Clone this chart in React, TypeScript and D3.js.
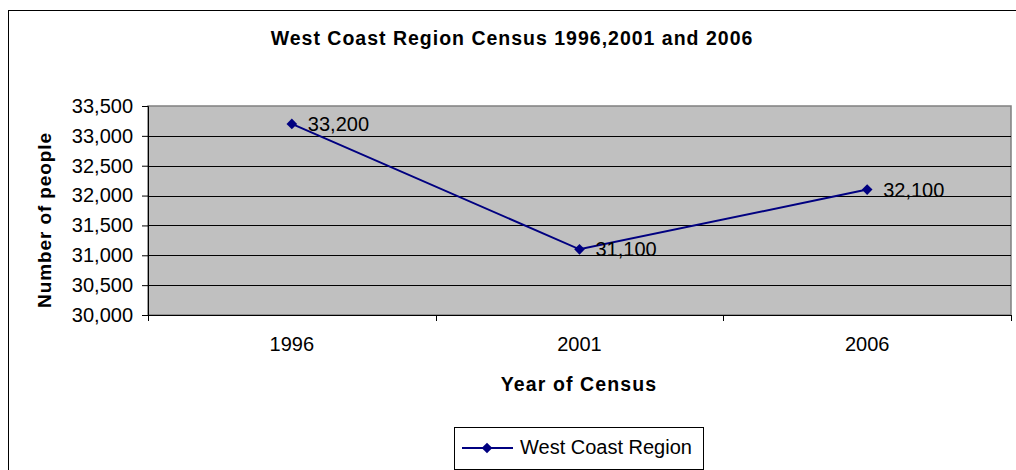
import { useEffect, useRef } from "react";
import * as d3 from "d3";

const years = ["1996", "2001", "2006"];
const population = [33200, 31100, 32100];
const yTicks = [30000, 30500, 31000, 31500, 32000, 32500, 33000, 33500];
const seriesName = "West Coast Region";

const App = () => {
  const ref = useRef<SVGSVGElement>(null);

  useEffect(() => {
    const svg = d3.select(ref.current);
    svg.selectAll("*").remove();

    const font = "'Liberation Sans', Arial, sans-serif";
    const plot = { left: 148, top: 106, right: 1011, bottom: 315 };

    // outer chart border (right and bottom cut off by the frame)
    svg
      .append("rect")
      .attr("x", 8.5)
      .attr("y", 10.5)
      .attr("width", 1020)
      .attr("height", 470)
      .attr("fill", "#fff")
      .attr("stroke", "#000");

    svg
      .append("text")
      .attr("x", 512)
      .attr("y", 45)
      .attr("text-anchor", "middle")
      .attr("font-family", font)
      .attr("font-weight", "bold")
      .attr("font-size", 19.5)
      .attr("letter-spacing", 1)
      .text("West Coast Region Census 1996,2001 and 2006");

    const x = d3.scaleBand().domain(years).range([plot.left, plot.right]);
    const y = d3
      .scaleLinear()
      .domain([30000, 33500])
      .range([plot.bottom, plot.top]);

    svg
      .append("rect")
      .attr("x", plot.left)
      .attr("y", plot.top)
      .attr("width", plot.right - plot.left)
      .attr("height", plot.bottom - plot.top)
      .attr("fill", "#c0c0c0")
      .attr("stroke", "#808080")
      .attr("stroke-width", 1.5);

    // gridlines
    svg
      .append("g")
      .selectAll("line")
      .data(yTicks.slice(1, -1))
      .enter()
      .append("line")
      .attr("x1", plot.left)
      .attr("x2", plot.right)
      .attr("y1", (d) => Math.round(y(d)) + 0.5)
      .attr("y2", (d) => Math.round(y(d)) + 0.5)
      .attr("stroke", "#000");

    // y axis
    const yAxis = svg
      .append("g")
      .attr("transform", `translate(${plot.left},0)`)
      .call(
        d3
          .axisLeft(y)
          .tickValues(yTicks)
          .tickSize(6)
          .tickPadding(9)
          .tickFormat((d) => d3.format(",")(d as number))
      );
    yAxis.select(".domain").attr("stroke", "#000");
    yAxis
      .selectAll("text")
      .attr("font-family", font)
      .attr("font-size", 20)
      .attr("fill", "#000");

    // x axis
    const xAxis = svg
      .append("g")
      .attr("transform", `translate(0,${plot.bottom})`)
      .call(d3.axisBottom(x).tickSize(0).tickPadding(22));
    xAxis.select(".domain").attr("stroke", "#000");
    xAxis
      .selectAll("text")
      .attr("font-family", font)
      .attr("font-size", 20)
      .attr("fill", "#000");
    xAxis
      .append("g")
      .selectAll("line")
      .data([0, 1, 2, 3])
      .enter()
      .append("line")
      .attr("x1", (d) => Math.round(plot.left + d * x.step()) + 0.5)
      .attr("x2", (d) => Math.round(plot.left + d * x.step()) + 0.5)
      .attr("y1", 0)
      .attr("y2", 6)
      .attr("stroke", "#000");

    svg
      .append("text")
      .attr("transform", "translate(51,220) rotate(-90)")
      .attr("text-anchor", "middle")
      .attr("font-family", font)
      .attr("font-weight", "bold")
      .attr("font-size", 19)
      .attr("letter-spacing", 0.9)
      .text("Number of people");

    svg
      .append("text")
      .attr("x", 579)
      .attr("y", 391)
      .attr("text-anchor", "middle")
      .attr("font-family", font)
      .attr("font-weight", "bold")
      .attr("font-size", 19.5)
      .attr("letter-spacing", 1.1)
      .text("Year of Census");

    const cx = (d: string) => (x(d) || 0) + x.bandwidth() / 2;
    const pts = years.map((d, i) => ({ year: d, value: population[i] }));

    const line = d3
      .line<{ year: string; value: number }>()
      .x((d) => cx(d.year))
      .y((d) => y(d.value));

    svg
      .append("path")
      .datum(pts)
      .attr("d", line)
      .attr("fill", "none")
      .attr("stroke", "#000080")
      .attr("stroke-width", 2);

    const diamond = d3.symbol().type(d3.symbolDiamond2).size(72);

    svg
      .selectAll(".pt")
      .data(pts)
      .enter()
      .append("path")
      .attr("class", "pt")
      .attr("d", diamond)
      .attr("transform", (d) => `translate(${cx(d.year)},${y(d.value)})`)
      .attr("fill", "#000080");

    svg
      .selectAll(".lbl")
      .data(pts)
      .enter()
      .append("text")
      .attr("class", "lbl")
      .attr("x", (d) => cx(d.year) + 16)
      .attr("y", (d) => y(d.value) + 7)
      .attr("font-family", font)
      .attr("font-size", 20)
      .text((d) => d3.format(",")(d.value));

    // legend
    const lg = svg.append("g");
    lg.append("rect")
      .attr("x", 454.5)
      .attr("y", 427.5)
      .attr("width", 249)
      .attr("height", 42)
      .attr("fill", "#fff")
      .attr("stroke", "#000");
    lg.append("line")
      .attr("x1", 462)
      .attr("x2", 513)
      .attr("y1", 448)
      .attr("y2", 448)
      .attr("stroke", "#000080")
      .attr("stroke-width", 2);
    lg.append("path")
      .attr("d", diamond)
      .attr("transform", "translate(487,448)")
      .attr("fill", "#000080");
    lg.append("text")
      .attr("x", 520)
      .attr("y", 454)
      .attr("font-family", font)
      .attr("font-size", 20)
      .text(seriesName);
  }, []);

  return (
    <svg
      ref={ref}
      width={1016}
      height={470}
      style={{ position: "absolute", left: 0, top: 0 }}
    ></svg>
  );
};

export default App;
